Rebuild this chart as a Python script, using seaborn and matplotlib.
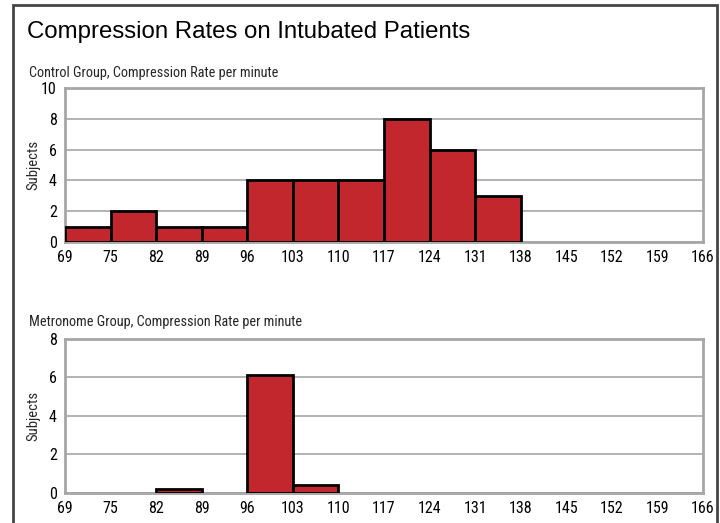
import numpy as np
import pandas as pd
import matplotlib.pyplot as plt
import seaborn as sns
from matplotlib.patches import Rectangle

# --- data ---
edges = [69, 75, 82, 89, 96, 103, 110, 117, 124, 131, 138, 145, 152, 159, 166]
control = [1, 2, 1, 1, 4, 4, 4, 8, 6, 3, 0, 0, 0, 0]
metronome = [0, 0, 0.2, 0, 6.15, 0.4, 0, 0, 0, 0, 0, 0, 0, 0]

bins = [f'{a}-{b}' for a, b in zip(edges[:-1], edges[1:])]
df_c = pd.DataFrame({'bin': bins, 'subjects': control})
df_m = pd.DataFrame({'bin': bins, 'subjects': metronome})

sns.set_theme(style="white")
narrow = ['Roboto Condensed', 'Roboto', 'DejaVu Sans']
plt.rcParams['font.family'] = ['Liberation Sans', 'DejaVu Sans']

fig = plt.figure(figsize=(7.2, 5.23), dpi=100)
ax1 = fig.add_axes([0.0903, 0.5373, 0.886, 0.2945])
ax2 = fig.add_axes([0.0903, 0.0574, 0.886, 0.2945])

bar_red = '#c1272d'
grid_gray = '#a6a6a6'

for ax, df, ymax in [(ax1, df_c, 10), (ax2, df_m, 8)]:
    sns.barplot(data=df, x='bin', y='subjects', ax=ax, color=bar_red, order=bins,
                width=1, edgecolor='black', linewidth=2, saturation=1, zorder=3)
    # empty bins are not drawn in the original
    for p in ax.patches:
        if p.get_height() == 0:
            p.set_visible(False)
    ax.set_xlim(-0.5, len(bins) - 0.5)
    ax.set_ylim(0, ymax)
    ax.set_xticks(np.arange(len(edges)) - 0.5)
    ax.set_xticklabels([str(e) for e in edges])
    ax.set_yticks(np.arange(0, ymax + 1, 2))
    ax.yaxis.grid(True, color=grid_gray, linewidth=1.2, zorder=0)
    ax.set_axisbelow(True)
    for s in ax.spines.values():
        s.set_color(grid_gray)
        s.set_linewidth(2)
    ax.tick_params(axis='both', length=5, width=1.5, color=grid_gray,
                   labelsize=11.5, pad=1, labelcolor='black')
    for lab in ax.get_xticklabels() + ax.get_yticklabels():
        lab.set_family(narrow)
    ax.set_xlabel('')
    ax.set_ylabel('Subjects', fontsize=10.5, family=narrow)
    ax.yaxis.set_label_coords(-0.038, 0.5)

fig.text(0.0375, 0.939, 'Compression Rates on Intubated Patients',
         fontsize=17.3, va='center', ha='left', color='black')
fig.text(0.040, 0.860, 'Control Group, Compression Rate per minute',
         fontsize=10.3, va='center', ha='left', family=narrow)
fig.text(0.040, 0.384, 'Metronome Group, Compression Rate per minute',
         fontsize=10.3, va='center', ha='left', family=narrow)

# outer frame, open at the bottom
fig.patches.append(Rectangle((0.018, -0.1), 0.978, 1.0904, transform=fig.transFigure,
                             fill=False, edgecolor='#444444', linewidth=2, zorder=10))

fig.savefig('out.png', dpi=100)
